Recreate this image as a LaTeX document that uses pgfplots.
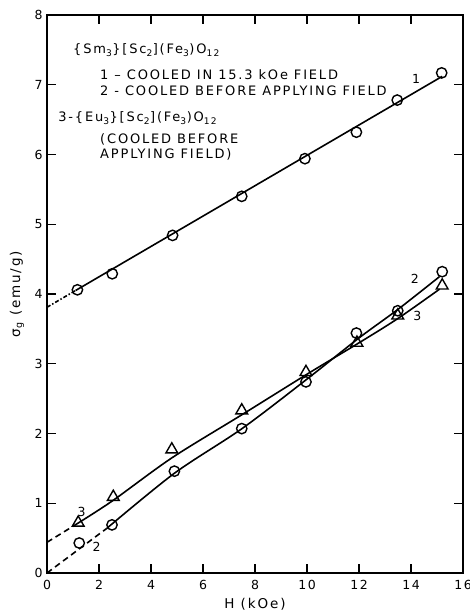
\documentclass[border=0pt]{standalone}
\usepackage{pgfplots}
\pgfplotsset{compat=1.18}
\usepackage{fontspec}
\setmainfont{DejaVu Sans}
\newfontfamily\lab[LetterSpace=12]{DejaVu Sans}
\newfontfamily\labw[LetterSpace=14]{DejaVu Sans}
\begin{document}
\begin{tikzpicture}
\begin{axis}[
 scale only axis, width=416pt, height=558pt,
 xmin=0, xmax=16, ymin=0, ymax=8,
 xtick={0,2,...,16}, ytick={0,1,...,8},
 tick align=inside, major tick length=9pt,
 tick style={black, line width=1.2pt},
 axis line style={line width=1.5pt},
 /pgf/number format/assume math mode=true,
 tick label style={font=\lab\fontsize{12.5}{14}\selectfont},
 label style={font=\labw\fontsize{13.5}{15}\selectfont},
 xlabel={H (kOe)}, ylabel={σ\textsubscript{g} (emu/g)},
 xlabel style={at={(axis description cs:0.5,0)}, yshift=-25pt, anchor=north, inner sep=0pt},
 ylabel style={at={(axis description cs:0,0.5)}, yshift=30pt, anchor=center, inner sep=0pt},
 xticklabel style={yshift=-4pt},
 yticklabel style={xshift=-1pt},
 every axis plot/.append style={line width=1.6pt, black},
 clip=false,
]
% fitted lines
\addplot[no marks, dash pattern=on 4pt off 2pt on 1.5pt off 2pt] coordinates {(0,3.81) (1.1,4.05)};
\addplot[no marks] coordinates {(1.1,4.05) (15.2,7.12)};
\addplot[no marks, dash pattern=on 6pt off 4pt] coordinates {(0,0) (2.3,0.64)};
\addplot[no marks, smooth] coordinates {(2.3,0.64) (4.9,1.43) (7.5,2.07) (10,2.78) (12,3.37) (13.5,3.78) (15.1,4.25)};
\addplot[no marks, dash pattern=on 6pt off 4pt] coordinates {(0,0.44) (1.0,0.67)};
\addplot[no marks, smooth] coordinates {(1.0,0.67) (2.5,1.03) (4.8,1.65) (7.5,2.27) (10,2.85) (12,3.30) (13.5,3.65) (15.1,4.07)};
% data
\addplot[only marks, mark=o, mark size=5.2pt, mark options={fill=white, line width=1.4pt}] coordinates {
(1.17,4.06) (2.51,4.29) (4.83,4.84) (7.49,5.40) (9.92,5.94) (11.9,6.32) (13.47,6.78) (15.18,7.17)};
\addplot[only marks, mark=o, mark size=5.2pt, mark options={fill=white, line width=1.4pt}] coordinates {
(1.24,0.43) (2.5,0.69) (4.9,1.46) (7.49,2.07) (9.96,2.74) (11.9,3.44) (13.49,3.76) (15.2,4.32)};
\addplot[only marks, mark=triangle, mark size=6.8pt, mark options={fill=white, line width=1.4pt}] coordinates {
(1.2,0.72) (2.55,1.09) (4.8,1.77) (7.49,2.33) (9.96,2.88) (11.92,3.30) (13.49,3.69) (15.2,4.12)};
% labels
\begin{scope}[every node/.style={font=\lab\fontsize{12.5}{14}\selectfont}]
\node at (axis cs:14.2,7.08) {1};
\node at (axis cs:14.15,4.22) {2};
\node at (axis cs:14.24,3.68) {3};
\node at (axis cs:1.33,0.88) {3};
\node at (axis cs:1.91,0.37) {2};
\end{scope}
\begin{scope}[every node/.style={anchor=west, inner sep=0pt, font=\labw\fontsize{13}{15}\selectfont}]
\node at (axis cs:1.0,7.5) {\{Sm\textsubscript{3}\}[Sc\textsubscript{2}](Fe\textsubscript{3})O\textsubscript{12}};
\node at (axis cs:2.04,7.14) {1 – COOLED IN 15.3 kOe FIELD};
\node at (axis cs:2.04,6.92) {2 - COOLED BEFORE APPLYING FIELD};
\node at (axis cs:0.43,6.52) {3-\{Eu\textsubscript{3}\}[Sc\textsubscript{2}](Fe\textsubscript{3})O\textsubscript{12}};
\node at (axis cs:2.04,6.21) {(COOLED BEFORE};
\node at (axis cs:2.04,6.0) {APPLYING FIELD)};
\end{scope}
\end{axis}
\pgfresetboundingbox
\path ([shift={(-47pt,-38pt)}]current axis.south west) rectangle ([shift={(6pt,15pt)}]current axis.north east);
\end{tikzpicture}
\end{document}
